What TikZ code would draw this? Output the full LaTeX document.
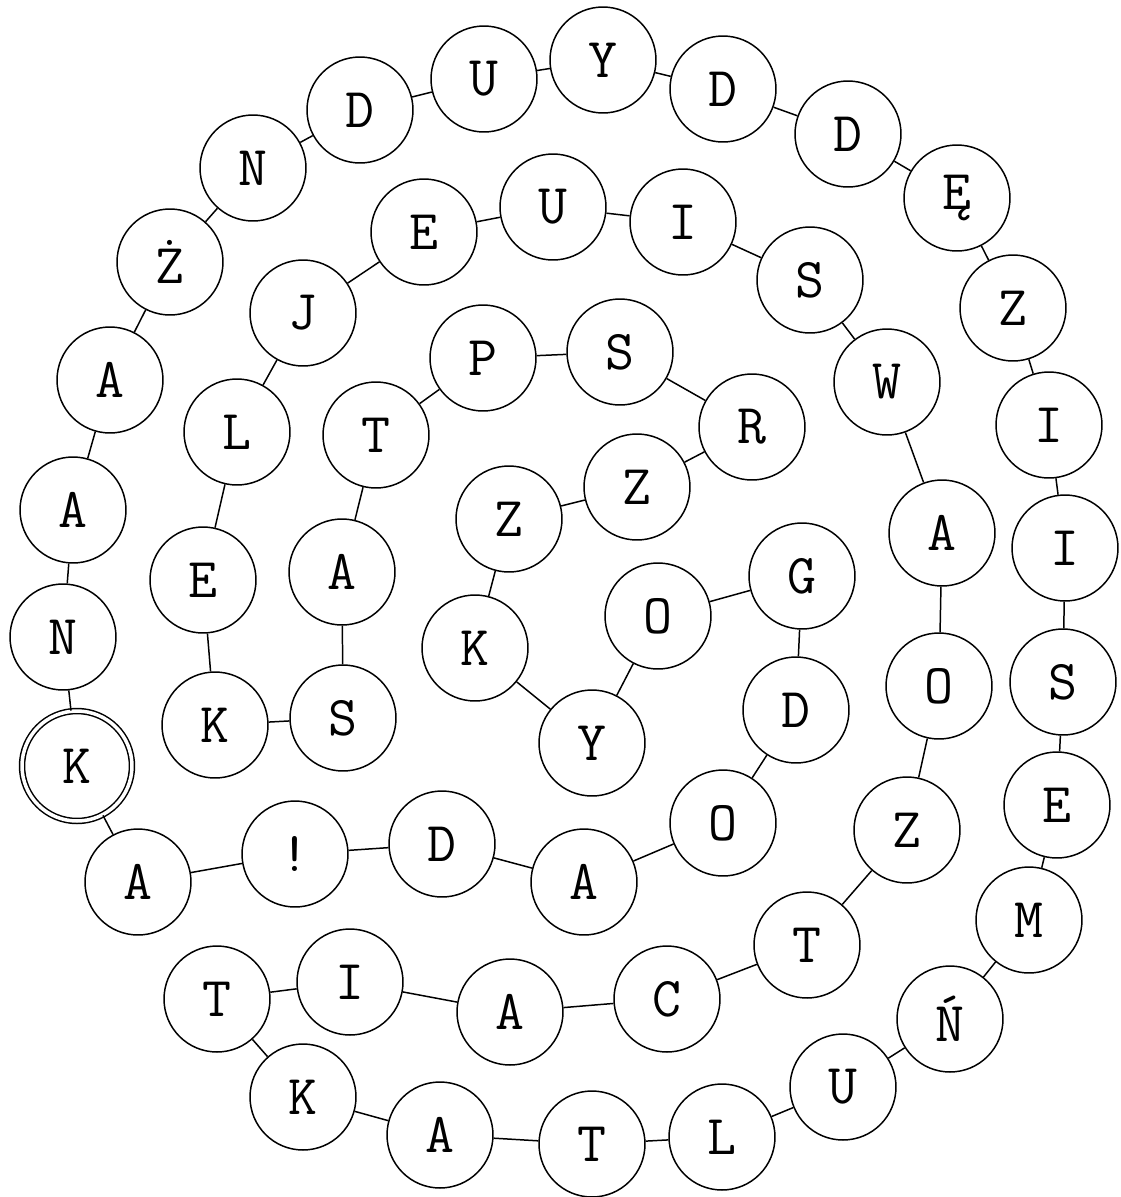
\documentclass[tikz,border=0pt]{standalone}
\usepackage{tikz}

\begin{document}
\begin{tikzpicture}[
  x=0.02cm, y=-0.02cm,
  letter/.style={circle, draw, line width=0.85pt, minimum size=2.12cm, inner sep=0pt, font=\ttfamily\fontsize{32}{32}\selectfont},
  startletter/.style={letter, double, double distance=2pt, minimum size=2.2cm},
  conn/.style={line width=0.85pt}
]
  \useasboundingbox (0,0) rectangle (1120,1197);

  % outer ring
  \node[startletter] (k1) at (77,766) {K};
  \node[letter] (n2) at (63,637) {N};
  \node[letter] (a3) at (73,510) {A};
  \node[letter] (a4) at (110,380) {A};
  \node[letter] (z5) at (170,262) {Ż};
  \node[letter] (n6) at (253,168) {N};
  \node[letter] (d7) at (360,110) {D};
  \node[letter] (u8) at (484,79) {U};
  \node[letter] (y9) at (603,60) {Y};
  \node[letter] (d10) at (723,89) {D};
  \node[letter] (d11) at (848,134) {D};
  \node[letter] (e12) at (957,198) {Ę};
  \node[letter] (z13) at (1013,308) {Z};
  \node[letter] (i14) at (1049,425) {I};
  \node[letter] (i15) at (1065,548) {I};
  \node[letter] (s16) at (1063,682) {S};
  \node[letter] (e17) at (1057,805) {E};
  \node[letter] (m18) at (1029,920) {M};
  \node[letter] (n19) at (950,1019) {Ń};
  \node[letter] (u20) at (843,1087) {U};
  \node[letter] (l21) at (722,1137) {L};
  \node[letter] (t22) at (592,1144) {T};
  \node[letter] (a23) at (440,1135) {A};
  \node[letter] (k24) at (303,1097) {K};
  \node[letter] (t25) at (217,999) {T};

  % second ring
  \node[letter] (i26) at (350,982) {I};
  \node[letter] (a27) at (510,1012) {A};
  \node[letter] (c28) at (667,999) {C};
  \node[letter] (t29) at (807,945) {T};
  \node[letter] (z30) at (907,830) {Z};
  \node[letter] (o31) at (939,686) {O};
  \node[letter] (a32) at (942,533) {A};
  \node[letter] (w33) at (887,382) {W};
  \node[letter] (s34) at (810,280) {S};
  \node[letter] (i35) at (683,222) {I};
  \node[letter] (u36) at (553,207) {U};
  \node[letter] (e37) at (424,232) {E};
  \node[letter] (j38) at (303,313) {J};
  \node[letter] (l39) at (237,432) {L};
  \node[letter] (e40) at (203,580) {E};
  \node[letter] (k41) at (215,725) {K};

  % inner ring
  \node[letter] (s42) at (343,718) {S};
  \node[letter] (a43) at (342,572) {A};
  \node[letter] (t44) at (376,435) {T};
  \node[letter] (p45) at (483,358) {P};
  \node[letter] (s46) at (620,352) {S};
  \node[letter] (r47) at (752,427) {R};
  \node[letter] (z48) at (637,487) {Z};
  \node[letter] (z49) at (509,519) {Z};
  \node[letter] (k50) at (475,648) {K};
  \node[letter] (y51) at (592,743) {Y};
  \node[letter] (o52) at (658,616) {O};
  \node[letter] (g53) at (802,576) {G};
  \node[letter] (d54) at (796,710) {D};
  \node[letter] (o55) at (723,823) {O};
  \node[letter] (a56) at (584,882) {A};
  \node[letter] (d57) at (442,844) {D};
  \node[letter] (x58) at (295,854) {!};
  \node[letter] (a59) at (138,882) {A};

  \draw[conn] (k1) -- (n2);
  \draw[conn] (n2) -- (a3);
  \draw[conn] (a3) -- (a4);
  \draw[conn] (a4) -- (z5);
  \draw[conn] (z5) -- (n6);
  \draw[conn] (n6) -- (d7);
  \draw[conn] (d7) -- (u8);
  \draw[conn] (u8) -- (y9);
  \draw[conn] (y9) -- (d10);
  \draw[conn] (d10) -- (d11);
  \draw[conn] (d11) -- (e12);
  \draw[conn] (e12) -- (z13);
  \draw[conn] (z13) -- (i14);
  \draw[conn] (i14) -- (i15);
  \draw[conn] (i15) -- (s16);
  \draw[conn] (s16) -- (e17);
  \draw[conn] (e17) -- (m18);
  \draw[conn] (m18) -- (n19);
  \draw[conn] (n19) -- (u20);
  \draw[conn] (u20) -- (l21);
  \draw[conn] (l21) -- (t22);
  \draw[conn] (t22) -- (a23);
  \draw[conn] (a23) -- (k24);
  \draw[conn] (k24) -- (t25);
  \draw[conn] (t25) -- (i26);
  \draw[conn] (i26) -- (a27);
  \draw[conn] (a27) -- (c28);
  \draw[conn] (c28) -- (t29);
  \draw[conn] (t29) -- (z30);
  \draw[conn] (z30) -- (o31);
  \draw[conn] (o31) -- (a32);
  \draw[conn] (a32) -- (w33);
  \draw[conn] (w33) -- (s34);
  \draw[conn] (s34) -- (i35);
  \draw[conn] (i35) -- (u36);
  \draw[conn] (u36) -- (e37);
  \draw[conn] (e37) -- (j38);
  \draw[conn] (j38) -- (l39);
  \draw[conn] (l39) -- (e40);
  \draw[conn] (e40) -- (k41);
  \draw[conn] (k41) -- (s42);
  \draw[conn] (s42) -- (a43);
  \draw[conn] (a43) -- (t44);
  \draw[conn] (t44) -- (p45);
  \draw[conn] (p45) -- (s46);
  \draw[conn] (s46) -- (r47);
  \draw[conn] (r47) -- (z48);
  \draw[conn] (z48) -- (z49);
  \draw[conn] (z49) -- (k50);
  \draw[conn] (k50) -- (y51);
  \draw[conn] (y51) -- (o52);
  \draw[conn] (o52) -- (g53);
  \draw[conn] (g53) -- (d54);
  \draw[conn] (d54) -- (o55);
  \draw[conn] (o55) -- (a56);
  \draw[conn] (a56) -- (d57);
  \draw[conn] (d57) -- (x58);
  \draw[conn] (x58) -- (a59);
  \draw[conn] (a59) -- (k1);
\end{tikzpicture}
\end{document}
